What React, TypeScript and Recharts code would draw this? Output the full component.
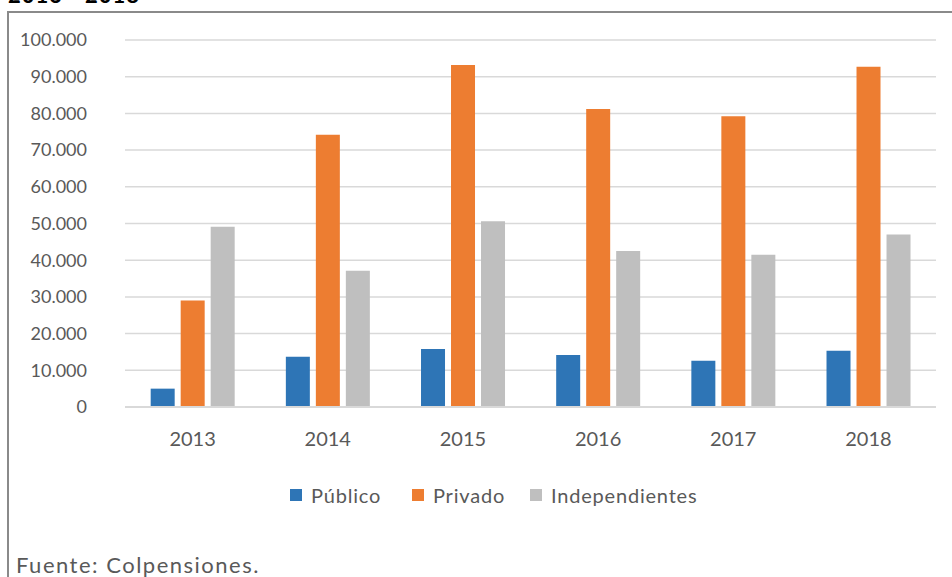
import { BarChart, Bar, XAxis, YAxis, CartesianGrid, Legend } from 'recharts';

const years = ['2013', '2014', '2015', '2016', '2017', '2018'];
const publico = [5000, 13700, 15800, 14200, 12600, 15300];
const privado = [29000, 74200, 93200, 81200, 79200, 92700];
const independientes = [49100, 37100, 50600, 42500, 41500, 47000];
const yTicks = [0, 10000, 20000, 30000, 40000, 50000, 60000, 70000, 80000, 90000, 100000];

const seriesInfo = [
  { key: 'publico', name: 'Público', color: '#2E75B6', w: 122 },
  { key: 'privado', name: 'Privado', color: '#ED7D31', w: 118 },
  { key: 'independientes', name: 'Independientes', color: '#BFBFBF', w: 180 },
];

const data = years.map((year, i) => ({
  year,
  publico: publico[i],
  privado: privado[i],
  independientes: independientes[i],
}));

const font = 'Lato, "Open Sans", sans-serif';

const fmt = (v: number) => String(v).replace(/\B(?=(\d{3})+(?!\d))/g, '.');

const LegendContent = () => (
  <div style={{ display: 'flex', paddingLeft: 290, fontFamily: font, fontSize: 20, color: '#595959' }}>
    {seriesInfo.map((s) => (
      <div key={s.key} style={{ display: 'flex', alignItems: 'center', width: s.w }}>
        <span style={{ width: 12, height: 12, background: s.color, display: 'inline-block', marginRight: 9 }} />
        <span style={{ letterSpacing: 0.8 }}>{s.name}</span>
      </div>
    ))}
  </div>
);

const App = () => {
  return (
    <div style={{ position: 'absolute', left: 0, top: 0, width: 952, height: 577, overflow: 'hidden', background: '#fff' }}>
      <div style={{ position: 'absolute', left: 8, top: -19, fontFamily: font, fontWeight: 'bold', fontSize: 22, color: '#000', letterSpacing: 1 }}>
        2013 - 2018
      </div>
      <div style={{ position: 'absolute', left: 7, top: 11, width: 1000, height: 700, border: '2px solid #8a8a8a' }} />
      <div style={{ position: 'absolute', left: 0, top: 0 }}>
        <BarChart
          width={952}
          height={577}
          data={data}
          margin={{ top: 40, right: 16, left: 0, bottom: 86 }}
          barCategoryGap="19%"
          barGap={6}
        >
          <CartesianGrid vertical={false} stroke="#d9d9d9" strokeWidth={1.5} />
          <XAxis
            dataKey="year"
            height={60}
            tickLine={false}
            tickSize={0}
            tickMargin={25}
            axisLine={{ stroke: '#d9d9d9', strokeWidth: 2 }}
            tick={{ fontSize: 20, fill: '#595959', fontFamily: font }}
          />
          <YAxis
            width={125}
            domain={[0, 100000]}
            ticks={yTicks}
            tickFormatter={fmt}
            axisLine={false}
            tickLine={false}
            tickSize={0}
            tickMargin={38}
            tick={{ fontSize: 18, fill: '#595959', fontFamily: font }}
          />
          <Legend content={<LegendContent />} wrapperStyle={{ top: 483, left: 0, width: 952 }} />
          {seriesInfo.map((s) => (
            <Bar key={s.key} dataKey={s.key} name={s.name} fill={s.color} isAnimationActive={false} />
          ))}
        </BarChart>
      </div>
      <div style={{ position: 'absolute', left: 16, top: 551, fontFamily: font, fontSize: 22, color: '#595959', letterSpacing: 1.5, whiteSpace: 'nowrap' }}>
        Fuente: Colpensiones.
      </div>
    </div>
  );
};

export default App;
